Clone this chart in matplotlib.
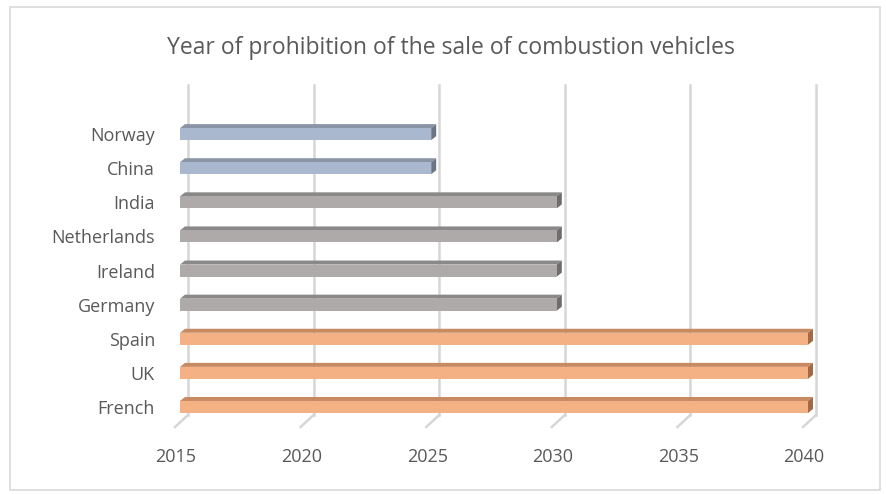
import matplotlib
matplotlib.use("Agg")
import matplotlib.pyplot as plt
import matplotlib.transforms as mtransforms
from matplotlib.patches import Rectangle, Polygon

# data (bottom to top, as drawn)
countries = ["French", "UK", "Spain", "Germany", "Ireland", "Netherlands", "India", "China", "Norway"]
ban_year = [2040, 2040, 2040, 2030, 2030, 2030, 2030, 2025, 2025]
front_col = ["#f4b183"] * 3 + ["#aeaaaa"] * 4 + ["#a9b8cf"] * 2
top_col = ["#c88a62"] * 3 + ["#8a8888"] * 4 + ["#8a94a5"] * 2
side_col = ["#a36a45"] * 3 + ["#6e6c6c"] * 4 + ["#6c7584"] * 2
year_ticks = [2015, 2020, 2025, 2030, 2035, 2040]
BASE = 2015

plt.rcParams["font.family"] = ["Open Sans", "DejaVu Sans"]
TXT = "#595959"
GRID = "#d6d6d6"

fig = plt.figure(figsize=(8.86, 4.94), dpi=100)
W, H = 886, 494
L, R, T, B = 180, 808, 85, 415
ax = fig.add_axes([L / W, (H - B) / H, (R - L) / W, (B - T) / H])
ax.set_xlim(2015, 2040)
ax.set_ylim(-0.235, 9.44)
for s in ax.spines.values():
    s.set_visible(False)

# pixel -> data unit conversion for the fake depth
xpp = 25 / (R - L)
ypp = (9.44 + 0.235) / (B - T)
DX, DY = 5 * xpp, 4 * ypp

# gridlines pushed back in depth, with small floor stubs
stub = mtransforms.blended_transform_factory(ax.transData, ax.transAxes)
for yr in year_ticks:
    gx = yr + 8 * xpp
    ax.plot([gx, gx], [0, 1], color=GRID, lw=1.8, transform=stub, zorder=0, clip_on=False)
    ax.plot([gx, yr - 5 * xpp], [0, -12 / (B - T)], color=GRID, lw=1.8,
            transform=stub, zorder=0, clip_on=False)

# 3D-ish bars: front face, top face, right side face
bh = 0.352
for y, yr, fc, tc, sc in zip(range(len(countries)), ban_year, front_col, top_col, side_col):
    y0, y1 = y - bh / 2, y + bh / 2
    ax.add_patch(Polygon([(BASE, y1), (yr, y1), (yr + DX, y1 + DY), (BASE + DX, y1 + DY)],
                         closed=True, facecolor=tc, edgecolor="none", zorder=2, clip_on=False))
    ax.add_patch(Polygon([(yr, y0), (yr + DX, y0 + DY), (yr + DX, y1 + DY), (yr, y1)],
                         closed=True, facecolor=sc, edgecolor="none", zorder=2, clip_on=False))
bars = ax.barh(range(len(countries)), [v - BASE for v in ban_year], left=BASE, height=bh,
               color=front_col, zorder=3)
for b in bars:
    b.set_clip_on(False)

ax.set_yticks(range(len(countries)))
ax.set_yticklabels(countries, fontsize=13, color=TXT)
ax.set_xticks(year_ticks)
ax.set_xticklabels([str(y) for y in year_ticks], fontsize=13, color=TXT)
ax.tick_params(axis="y", length=0, pad=18)
ax.tick_params(axis="x", length=0, pad=24)
shift = mtransforms.ScaledTranslation(-4 / 100, 0, fig.dpi_scale_trans)
for lab in ax.get_xticklabels():
    lab.set_transform(lab.get_transform() + shift)

fig.text(451 / W, 1 - 48 / H, "Year of prohibition of the sale of combustion vehicles",
         ha="center", va="center", fontsize=16.5, color=TXT)

fig.patches.append(Rectangle((10 / W, 4 / H), 870 / W, 483 / H, transform=fig.transFigure,
                             fill=False, edgecolor="#d9d9d9", lw=1.2))

fig.savefig("out.png", dpi=100)
